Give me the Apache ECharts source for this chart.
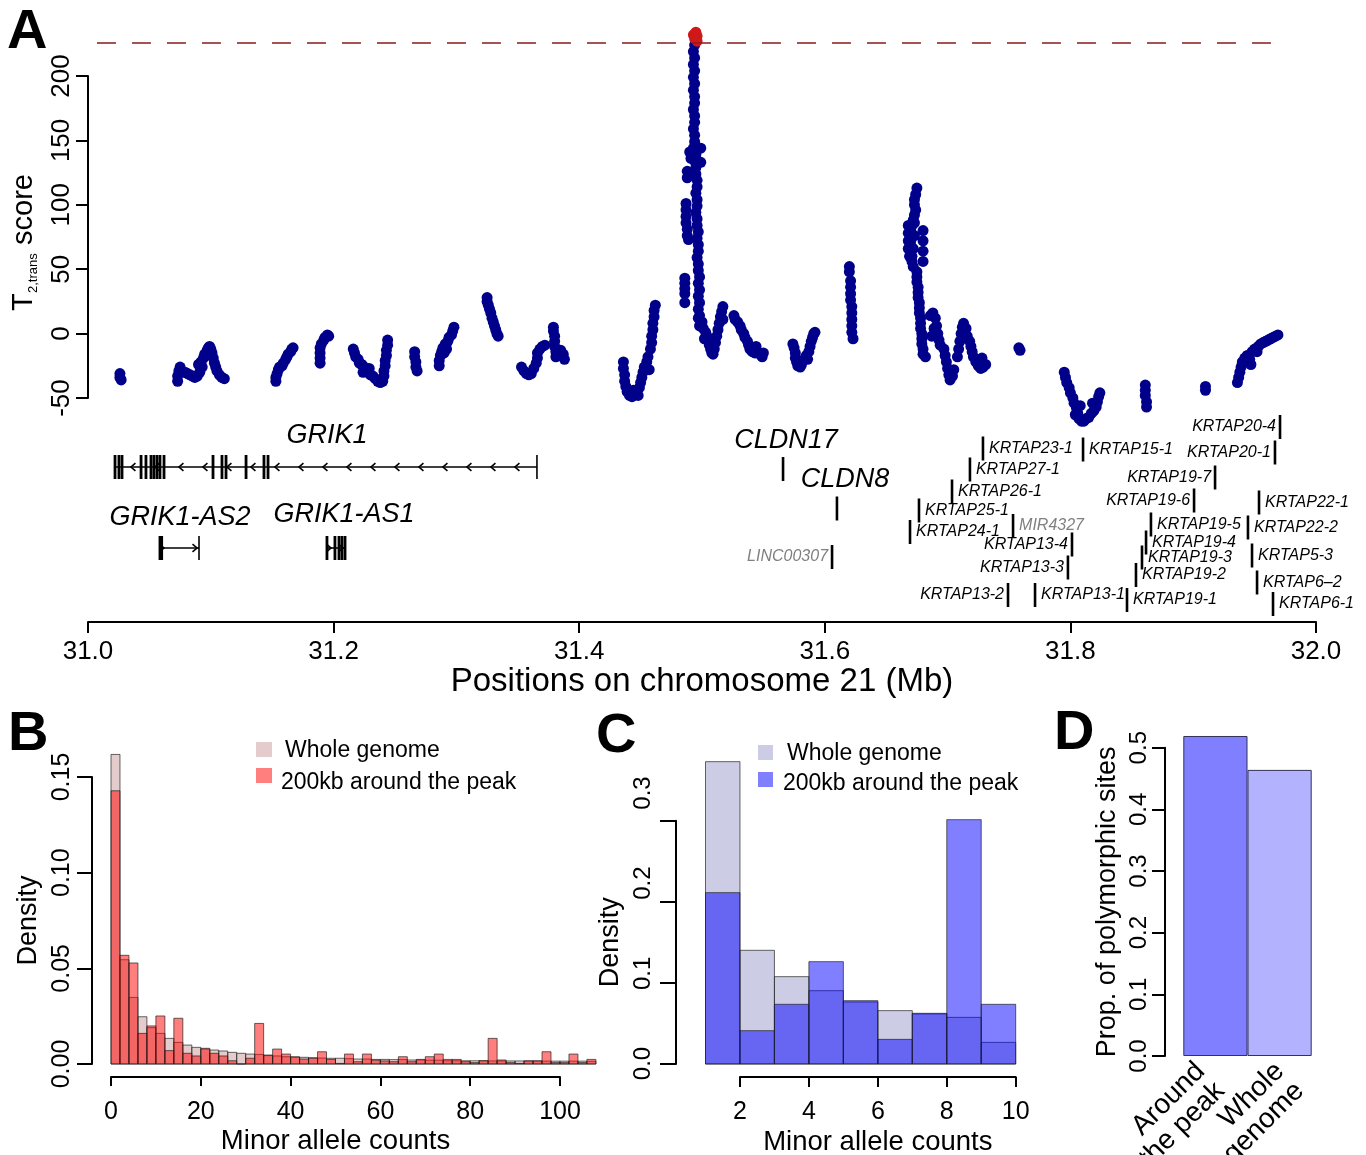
<!DOCTYPE html>
<html><head><meta charset="utf-8">
<script src="https://cdn.jsdelivr.net/npm/echarts@6/dist/echarts.min.js"></script>
<style>html,body{margin:0;padding:0;background:#fff}#c{width:1366px;height:1155px}</style>
</head><body><div id="c"></div>
<script>
// ---------------- DATA ----------------
// Panel A: T2,trans scores [position (Mb), score]
const t2GRIK1 = [
[31.026,-31],[31.026,-34],[31.027,-36],
[31.073,-37],[31.073,-33],[31.074,-29],[31.075,-26],
[31.079,-30],[31.081,-31],[31.083,-32],[31.085,-33],[31.087,-34],[31.089,-33],[31.091,-30],
[31.090,-24],[31.092,-22],[31.093,-26],[31.094,-19],[31.095,-16],[31.097,-13],[31.098,-11],[31.099,-10],[31.100,-12],[31.101,-15],[31.102,-19],
[31.103,-23],[31.104,-26],[31.105,-29],[31.107,-32],[31.109,-34],[31.111,-35],
[31.153,-37],[31.153,-34],[31.154,-31],[31.155,-28],[31.156,-26],[31.158,-25],[31.159,-23],[31.161,-20],[31.162,-18],[31.163,-16],[31.165,-14],[31.166,-12],[31.167,-11],
[31.189,-23],[31.189,-19],[31.189,-15],[31.189,-11],[31.190,-8],[31.192,-5],[31.193,-3],[31.195,-1],[31.196,-2],
[31.216,-12],[31.217,-15],[31.218,-18],[31.220,-20],[31.221,-23],[31.223,-24],[31.225,-26],[31.226,-28],[31.228,-30],[31.230,-32],[31.232,-33],[31.234,-35],[31.236,-37],[31.238,-38],[31.240,-37],[31.241,-33],[31.241,-29],[31.242,-25],[31.242,-21],[31.243,-17],[31.243,-13],[31.244,-9],[31.244,-5],[31.224,-30],[31.229,-27],
[31.266,-14],[31.266,-18],[31.267,-22],[31.267,-26],[31.268,-29],
[31.286,-25],[31.286,-21],[31.287,-17],[31.288,-14],[31.289,-11],[31.291,-8],[31.292,-12],[31.293,-6],[31.294,-3],[31.296,-1],[31.297,2],[31.298,5],[31.290,-15],
[31.325,28],[31.325,25],[31.326,22],[31.327,19],[31.328,16],[31.329,12],[31.330,9],[31.331,6],[31.332,3],[31.333,0],[31.334,-2],
[31.353,-26],[31.355,-29],[31.357,-31],[31.359,-32],[31.361,-31],[31.363,-27],[31.365,-23],[31.366,-19],[31.366,-15],[31.368,-12],[31.370,-10],[31.372,-9],
[31.379,5],[31.379,2],[31.380,-2],[31.380,-6],[31.380,-10],[31.381,-14],[31.381,-18],[31.383,-16],[31.385,-13],[31.387,-16],[31.388,-20]
];
const t2Peak = [
[31.436,-22],[31.436,-27],[31.437,-32],[31.437,-37],[31.438,-41],[31.439,-45],[31.441,-48],[31.443,-49],[31.445,-47],[31.447,-45],[31.449,-42],[31.450,-38],[31.451,-34],[31.452,-30],[31.453,-26],[31.455,-22],[31.456,-18],[31.457,-28],[31.458,-12],[31.459,-7],[31.459,-2],[31.460,3],[31.460,8],[31.461,13],[31.461,18],[31.462,22],[31.444,-44],[31.448,-48],
[31.494,224],[31.493,219],[31.494,214],[31.493,209],[31.494,204],[31.493,199],[31.494,194],[31.493,189],[31.494,184],[31.494,179],[31.493,174],[31.494,169],[31.494,164],[31.493,159],[31.494,154],[31.494,149],[31.493,144],[31.495,139],[31.494,134],[31.495,129],[31.495,124],[31.496,119],[31.496,114],[31.495,109],[31.496,104],[31.496,99],[31.495,94],[31.496,89],[31.496,84],[31.497,79],[31.496,74],[31.497,69],[31.497,64],[31.496,59],[31.497,54],[31.497,49],[31.498,44],[31.497,39],[31.498,34],[31.497,29],[31.498,24],[31.497,19],[31.498,14],
[31.490,141],[31.491,136],[31.499,144],[31.499,133],[31.488,126],[31.488,121],[31.487,101],[31.487,96],[31.487,91],[31.487,86],[31.488,81],[31.488,76],[31.489,73],[31.486,43],[31.486,39],[31.486,35],[31.486,31],[31.486,24],
[31.497,12],[31.498,6],[31.500,9],[31.501,4],[31.503,1],[31.504,-2],[31.505,-6],[31.506,-9],[31.507,-12],[31.508,-15],[31.509,-16],[31.510,-12],[31.511,-7],[31.512,-2],[31.513,3],[31.514,8],[31.515,13],[31.516,17],[31.517,21],[31.517,11],[31.502,-4],
[31.526,14],[31.527,11],[31.529,9],[31.531,6],[31.532,3],[31.534,0],[31.535,-3],[31.537,-6],[31.538,-9],[31.539,-12],[31.541,-14],[31.543,-15],[31.545,-14],[31.547,-16],[31.549,-18],[31.550,-15],[31.544,-10]
];
const t2CLDN = [
[31.574,-8],[31.575,-11],[31.576,-15],[31.576,-19],[31.577,-22],[31.578,-25],[31.580,-26],[31.581,-24],[31.582,-21],[31.584,-19],[31.585,-17],[31.587,-14],[31.588,-10],[31.589,-6],[31.590,-3],[31.591,0],[31.592,1],[31.586,-20],
[31.620,52],[31.620,48],[31.621,41],[31.621,36],[31.621,31],[31.621,26],[31.622,21],[31.622,16],[31.622,11],[31.622,6],[31.622,1],[31.623,-4],
[31.675,113],[31.674,108],[31.673,104],[31.673,100],[31.674,96],[31.673,92],[31.672,88],[31.671,84],[31.670,80],[31.670,76],[31.670,72],[31.670,68],[31.670,64],[31.671,60],[31.671,56],[31.672,52],[31.673,76],[31.673,86],[31.672,66],[31.668,84],[31.668,78],[31.668,72],[31.668,66],[31.669,60],[31.680,80],[31.680,72],[31.680,64],[31.680,56],
[31.675,48],[31.675,44],[31.675,40],[31.676,36],[31.676,32],[31.676,28],[31.677,24],[31.677,20],[31.677,16],[31.678,12],[31.678,8],[31.678,4],[31.679,0],[31.679,-4],[31.679,-8],[31.680,-12],[31.680,-16],[31.682,-18],
[31.686,14],[31.688,16],[31.690,12],[31.691,6],[31.692,0],[31.693,-5],[31.694,-9],[31.689,4],[31.687,-2],
[31.697,-12],[31.698,-17],[31.699,-22],[31.700,-27],[31.701,-32],[31.702,-36],[31.704,-33],[31.705,-28],
[31.708,-18],[31.709,-12],[31.710,-6],[31.711,0],[31.712,5],[31.713,8],[31.715,4],
[31.716,-2],[31.718,-6],[31.719,-10],[31.720,-14],[31.721,-18],[31.723,-22],[31.725,-25],[31.727,-27],[31.729,-26],[31.731,-24],[31.728,-19],
[31.758,-11],[31.759,-13]
];
const t2KRTAP = [
[31.795,-30],[31.796,-34],[31.797,-38],[31.799,-42],[31.800,-46],[31.802,-50],[31.803,-54],[31.805,-58],[31.806,-62],[31.807,-66],[31.809,-68],[31.811,-68],[31.813,-66],[31.815,-65],[31.817,-62],[31.819,-60],[31.821,-57],[31.822,-53],[31.823,-49],[31.824,-46],[31.808,-56],[31.804,-63],[31.818,-54],
[31.861,-40],[31.861,-44],[31.861,-48],[31.862,-53],[31.862,-57],
[31.910,-41],[31.910,-44],
[31.936,-38],[31.937,-34],[31.938,-30],[31.939,-26],[31.940,-22],[31.942,-19],[31.944,-17],[31.946,-20],[31.947,-24],[31.948,-14],[31.950,-12],[31.952,-14],[31.953,-10],[31.955,-8],[31.957,-7],[31.959,-6],[31.961,-5],[31.963,-4],[31.965,-3],[31.967,-2],[31.969,-1]
];
const t2AboveThreshold = [[31.493,232],[31.495,234],[31.496,231],[31.494,229],[31.496,227]];
const t2Threshold = 225.6;
const thresholdSpan = [31.0073, 31.9707];

// Gene models (positions in Mb, row = track level)
const geneModels = [
  {name:'GRIK1', start:31.0220, end:31.3656, strand:-1, row:67,
   exons:[31.0220,31.0252,31.0277,31.0432,31.0472,31.0513,31.0537,31.0562,31.0586,31.0619,31.1018,31.1091,31.1124,31.1287,31.1433,31.1466]},
  {name:'GRIK1-AS2', start:31.0586, end:31.0904, strand:1, row:148, exons:[31.0586,31.0600]},
  {name:'GRIK1-AS1', start:31.1946, end:31.2093, strand:1, row:148, exons:[31.1946,31.2011,31.2044,31.2068,31.2093]}
];
const geneLabelNames = ['GRIK1','GRIK1-AS2','GRIK1-AS1','CLDN17','CLDN8'];
const geneLabelPos   = [31.1946, 31.0749, 31.2085, 31.5684, 31.6164];
const geneLabelRow   = [35, 117, 114, 40, 79];

const smallGeneNames = ['CLDN17','CLDN8','LINC00307','KRTAP20-4','KRTAP23-1','KRTAP15-1','KRTAP20-1','KRTAP27-1','KRTAP19-7','KRTAP26-1','KRTAP19-6','KRTAP22-1','KRTAP25-1','MIR4327','KRTAP24-1','KRTAP19-5','KRTAP22-2','KRTAP13-4','KRTAP19-4','KRTAP19-3','KRTAP5-3','KRTAP13-3','KRTAP19-2','KRTAP6\u20132','KRTAP13-2','KRTAP13-1','KRTAP19-1','KRTAP6-1'];
const smallGenePos = [31.5660,31.6099,31.6059,31.9707,31.7288,31.8103,31.9666,31.7182,31.9178,31.7036,31.9007,31.9536,31.6767,31.7533,31.6694,31.8656,31.9446,31.8013,31.8616,31.8583,31.9479,31.7980,31.8534,31.9520,31.7492,31.7712,31.8461,31.9650];
const smallGeneRow = [69,108.5,157,27,48.5,49.5,52.5,69.5,77.5,91.5,100.5,102.5,110.5,126,132,124.5,127.5,144.5,142.5,157.5,155.5,167.5,175,182.5,195,195,200,204];
const smallGeneSide = ['','','l','l','r','r','l','r','l','r','l','r','r','r','r','r','r','l','r','r','r','l','r','r','l','r','r','r'];
const nonCodingGenes = ['LINC00307','MIR4327'];

// Panel B: minor allele count histogram (bins of width 2 from 0 to 108)
const binWidthB = 2;
const densB_whole = [0.1618,0.0545,0.0348,0.0247,0.0190,0.0160,0.0134,0.0113,0.0099,0.0087,0.0078,0.0073,0.0068,0.0061,0.0056,0.0052,0.0050,0.0044,0.0042,0.0038,0.0035,0.0035,0.0033,0.0031,0.0030,0.0030,0.0028,0.0026,0.0026,0.0024,0.0024,0.0023,0.0023,0.0021,0.0021,0.0020,0.0020,0.0017,0.0017,0.0017,0.0017,0.0017,0.0016,0.0016,0.0016,0.0016,0.0015,0.0015,0.0015,0.0015,0.0015,0.0015,0.0015,0.0014];
const densB_peak  = [0.1428,0.0568,0.0528,0.0160,0.0199,0.0251,0.0070,0.0239,0.0056,0.0042,0.0082,0.0056,0.0042,0.0017,0.0000,0.0030,0.0212,0.0047,0.0078,0.0052,0.0038,0.0026,0.0030,0.0064,0.0024,0.0003,0.0052,0.0012,0.0052,0.0020,0.0016,0.0012,0.0038,0.0012,0.0024,0.0038,0.0052,0.0024,0.0024,0.0012,0.0007,0.0017,0.0134,0.0021,0.0007,0.0003,0.0017,0.0017,0.0064,0.0007,0.0007,0.0052,0.0007,0.0024];
// Panel C: minor allele counts 1..10 (bins of width 1)
const binStartC = 1;
const densC_whole = [0.3728,0.1402,0.1077,0.0904,0.0765,0.0658,0.0617,0.0575,0.0267];
const densC_peak  = [0.2113,0.0411,0.0736,0.1262,0.0781,0.0304,0.0625,0.3013,0.0736];
// Panel D
const propCategories = ['Around\nthe peak','Whole\ngenome'];
const propPolymorphic = [0.519, 0.464];

// ---------------- CHART ----------------
const FAM = 'Liberation Sans';
const CSSFAM = '"Liberation Sans", Arial, Helvetica, sans-serif';
const BLACK = '#000';
const chart = echarts.init(document.getElementById('c'), null, {renderer:'canvas', width:1366, height:1155});

function arrowHead(x, y, dir) {
  return {type:'polyline', shape:{points:[[x - dir*4.5, y-3.8],[x, y],[x - dir*4.5, y+3.8]]}, style:{stroke:BLACK, lineWidth:1.6, fill:null}};
}
function renderGeneModel(params, api) {
  const g = geneModels[api.value(2)];
  const pS = api.coord([g.start, g.row]);
  const pE = api.coord([g.end, g.row]);
  const y = pS[1], half = 12;
  const ch = [{type:'line', shape:{x1:pS[0], y1:y, x2:pE[0], y2:y}, style:{stroke:BLACK, lineWidth:1.6}}];
  [pS[0], pE[0]].forEach(x => ch.push({type:'line', shape:{x1:x, y1:y-half, x2:x, y2:y+half}, style:{stroke:BLACK, lineWidth:1.6}}));
  g.exons.forEach(e => {
    const x = api.coord([e, g.row])[0];
    ch.push({type:'rect', shape:{x:x-1.4, y:y-half, width:2.8, height:2*half}, style:{fill:BLACK}});
  });
  if (g.strand < 0) {
    for (let x = pE[0]-22; x > pS[0]+4; x -= 24) ch.push(arrowHead(x, y, -1));
  } else {
    ch.push(arrowHead(pS[0]+4, y, 1));
    ch.push(arrowHead(pE[0]-2, y, 1));
  }
  return {type:'group', children:ch};
}
function renderSmallGene(params, api) {
  const i = api.value(2);
  const p = api.coord([api.value(0), api.value(1)]);
  const ch = [{type:'rect', shape:{x:p[0]-1.3, y:p[1]-12, width:2.6, height:24}, style:{fill:BLACK}}];
  const name = smallGeneNames[i], side = smallGeneSide[i];
  if (side) {
    const right = side === 'r';
    ch.push({type:'text', style:{text:name, x:p[0] + (right ? 6 : -4), y:p[1],
      fill: nonCodingGenes.indexOf(name) >= 0 ? '#808080' : BLACK,
      font:'italic 16px ' + CSSFAM, textAlign: right ? 'left' : 'right', textVerticalAlign:'middle'}});
  }
  return {type:'group', children:ch};
}
function renderGeneLabel(params, api) {
  const i = api.value(2);
  const p = api.coord([api.value(0), api.value(1)]);
  return {type:'text', style:{text:geneLabelNames[i], x:p[0], y:p[1], fill:BLACK,
    font:'italic 27px ' + CSSFAM, textAlign:'center', textVerticalAlign:'middle'}};
}
function renderHist(params, api) {
  const a = api.coord([api.value(0), 0]);
  const b = api.coord([api.value(1), api.value(2)]);
  return {type:'rect', shape:{x:a[0], y:b[1], width:b[0]-a[0], height:a[1]-b[1]},
    style: api.style({stroke:'rgba(30,30,30,0.75)', lineWidth:0.9})};
}
// rotated category labels under the bars of panel D (R: srt=45, adj=1)
const labelShiftD = [-5, 10];
function renderCatLabel(params, api) {
  const i = params.dataIndex;
  const p = api.coord([i, 0]);
  return {type:'text', x:p[0] + labelShiftD[i], y:p[1] + 21, rotation:Math.PI/4,
    style:{text:propCategories[i], fill:BLACK, font:'28px ' + CSSFAM, lineHeight:28,
      textAlign:'right', textVerticalAlign:'middle'}};
}

const lineS = {color:BLACK, width:2};
function valAxis(o) {
  return Object.assign({type:'value', splitLine:{show:false}, axisLine:{show:true, onZero:false, lineStyle:lineS},
    axisTick:{show:true, lineStyle:lineS}, axisLabel:{color:BLACK, fontFamily:FAM}, nameTextStyle:{color:BLACK, fontFamily:FAM}}, o);
}
const hidden = (gi, min, max) => ({type:'value', gridIndex:gi, min:min, max:max, show:false, splitLine:{show:false}, axisLine:{onZero:false}});
const G = (o) => Object.assign({containLabel:false, outerBoundsMode:'none'}, o);

const option = {
  backgroundColor:'#fff',
  animation:false,
  grid:[
    G({left:88, top:76, width:1228, height:322}),        // 0 A scores
    G({left:88, top:400, width:1228, height:222}),       // 1 A genes
    G({left:111, top:777, width:484.9, height:287}),     // 2 B data
    G({left:111, top:777, width:449, height:287}),       // 3 B x axis
    G({left:705.5, top:820.7, width:310.2, height:243.3}), // 4 C data
    G({left:740, top:820.7, width:275.7, height:243.3}), // 5 C x axis
    G({left:705.5, top:793, width:310.2, height:270.5}), // 6 C y labels
    G({left:1183.3, top:747.7, width:128.4, height:308.3}) // 7 D
  ],
  xAxis:[
    hidden(0, 31, 32),
    valAxis({gridIndex:1, min:31, max:32, interval:0.2, position:'bottom',
      axisTick:{show:true, length:11, lineStyle:lineS},
      axisLabel:{formatter:v => v.toFixed(1), fontSize:26, margin:17, color:BLACK, fontFamily:FAM},
      name:'Positions on chromosome 21 (Mb)', nameLocation:'middle', nameGap:41,
      nameTextStyle:{fontSize:33, color:BLACK, fontFamily:FAM}}),
    hidden(2, 0, 108),
    valAxis({gridIndex:3, min:0, max:100, interval:20, offset:13, position:'bottom',
      axisTick:{show:true, length:9, lineStyle:lineS},
      axisLabel:{fontSize:25, margin:23, color:BLACK, fontFamily:FAM},
      name:'Minor allele counts', nameLocation:'middle', nameGap:50,
      nameTextStyle:{fontSize:27.5, color:BLACK, fontFamily:FAM}}),
    hidden(4, 1, 10),
    valAxis({gridIndex:5, min:2, max:10, interval:2, offset:13, position:'bottom',
      axisTick:{show:true, length:10, lineStyle:lineS},
      axisLabel:{fontSize:25, margin:23, color:BLACK, fontFamily:FAM},
      name:'Minor allele counts', nameLocation:'middle', nameGap:51,
      nameTextStyle:{fontSize:27.5, color:BLACK, fontFamily:FAM}}),
    hidden(6, 0, 1),
    {type:'category', gridIndex:7, data:propCategories, axisLine:{show:false}, axisTick:{show:false},
      axisLabel:{show:false}}
  ],
  yAxis:[
    valAxis({gridIndex:0, min:-50, max:200, interval:50,
      axisTick:{show:true, length:12, lineStyle:lineS},
      axisLabel:{rotate:90, fontSize:26, margin:13, color:BLACK, fontFamily:FAM}}),
    {type:'value', gridIndex:1, min:0, max:222, inverse:true, show:false, splitLine:{show:false}},
    valAxis({gridIndex:2, min:0, max:0.15, interval:0.05, offset:19,
      axisTick:{show:true, length:15, lineStyle:lineS},
      axisLabel:{rotate:90, fontSize:25, margin:17, formatter:v => v.toFixed(2), color:BLACK, fontFamily:FAM},
      name:'Density', nameLocation:'middle', nameGap:50, nameTextStyle:{fontSize:27, color:BLACK, fontFamily:FAM}}),
    hidden(3, 0, 1),
    valAxis({gridIndex:4, min:0, max:0.3, interval:0.1, offset:29.5,
      axisTick:{show:true, length:16, lineStyle:lineS}, axisLabel:{show:false},
      name:'Density', nameLocation:'middle', nameGap:52, nameTextStyle:{fontSize:27, color:BLACK, fontFamily:FAM}}),
    hidden(5, 0, 1),
    {type:'value', gridIndex:6, min:0, max:0.3, interval:0.1, offset:29.5, splitLine:{show:false},
      axisLine:{show:false}, axisTick:{show:false},
      axisLabel:{rotate:90, fontSize:24, margin:20.7, formatter:v => v.toFixed(1), color:BLACK, fontFamily:FAM}},
    valAxis({gridIndex:7, min:0, max:0.5, interval:0.1, offset:18.3,
      axisTick:{show:true, length:13, lineStyle:lineS},
      axisLabel:{rotate:90, fontSize:24, margin:13.4, formatter:v => v.toFixed(1), color:BLACK, fontFamily:FAM},
      name:'Prop. of polymorphic sites', nameLocation:'middle', nameGap:44, nameTextStyle:{fontSize:27, color:BLACK, fontFamily:FAM}})
  ],
  series:[
    {type:'scatter', xAxisIndex:0, yAxisIndex:0, data:[].concat(t2GRIK1, t2Peak, t2CLDN, t2KRTAP), symbolSize:11,
      itemStyle:{color:'#00008B', opacity:1}, clip:false, silent:true},
    {type:'scatter', xAxisIndex:0, yAxisIndex:0, data:t2AboveThreshold, symbolSize:11,
      itemStyle:{color:'#D01818', opacity:1}, clip:false, silent:true},
    {type:'line', xAxisIndex:0, yAxisIndex:0, data:thresholdSpan.map(x => [x, t2Threshold]), symbol:'none',
      lineStyle:{color:'#8B1A1A', width:1.6, type:[19,16]}, clip:false, silent:true},
    {type:'custom', xAxisIndex:1, yAxisIndex:1, renderItem:renderGeneModel, silent:true,
      data:geneModels.map((g,i) => [g.start, g.row, i]), encode:{x:0, y:1}},
    {type:'custom', xAxisIndex:1, yAxisIndex:1, renderItem:renderSmallGene, silent:true,
      data:smallGenePos.map((p,i) => [p, smallGeneRow[i], i]), encode:{x:0, y:1}},
    {type:'custom', xAxisIndex:1, yAxisIndex:1, renderItem:renderGeneLabel, silent:true,
      data:geneLabelPos.map((p,i) => [p, geneLabelRow[i], i]), encode:{x:0, y:1}},
    {type:'custom', name:'Whole genome', xAxisIndex:2, yAxisIndex:2, renderItem:renderHist, silent:true,
      itemStyle:{color:'rgba(204,153,153,0.5)'},
      data:densB_whole.map((h,i) => [i*binWidthB, (i+1)*binWidthB, h]), encode:{x:[0,1], y:2}},
    {type:'custom', name:'200kb around the peak', xAxisIndex:2, yAxisIndex:2, renderItem:renderHist, silent:true,
      itemStyle:{color:'rgba(255,0,0,0.5)'},
      data:densB_peak.map((h,i) => [i*binWidthB, (i+1)*binWidthB, h]), encode:{x:[0,1], y:2}},
    {type:'custom', name:'Whole genome C', xAxisIndex:4, yAxisIndex:4, renderItem:renderHist, silent:true,
      itemStyle:{color:'rgba(153,153,204,0.5)'},
      data:densC_whole.map((h,i) => [binStartC+i, binStartC+i+1, h]), encode:{x:[0,1], y:2}},
    {type:'custom', name:'200kb around the peak C', xAxisIndex:4, yAxisIndex:4, renderItem:renderHist, silent:true,
      itemStyle:{color:'rgba(0,0,255,0.5)'},
      data:densC_peak.map((h,i) => [binStartC+i, binStartC+i+1, h]), encode:{x:[0,1], y:2}},
    {type:'bar', xAxisIndex:7, yAxisIndex:7, barWidth:'100%', barCategoryGap:0, clip:false, silent:true,
      data:propPolymorphic.map((v,i) => ({value:v, itemStyle:{color: i === 0 ? 'rgba(0,0,255,0.5)' : 'rgba(0,0,255,0.3)', borderColor:'#333355', borderWidth:1}}))},
    {type:'custom', xAxisIndex:7, yAxisIndex:7, renderItem:renderCatLabel, silent:true, clip:false,
      data:propCategories.map((c,i) => [i, 0]), encode:{x:0, y:1}}
  ],
  graphic:[
    {type:'text', x:7, y:33, style:{text:'A', font:'bold 56px ' + CSSFAM, fill:BLACK, textVerticalAlign:'middle'}},
    {type:'text', x:8, y:735, style:{text:'B', font:'bold 56px ' + CSSFAM, fill:BLACK, textVerticalAlign:'middle'}},
    {type:'text', x:596, y:737, style:{text:'C', font:'bold 56px ' + CSSFAM, fill:BLACK, textVerticalAlign:'middle'}},
    {type:'text', x:1054, y:734, style:{text:'D', font:'bold 56px ' + CSSFAM, fill:BLACK, textVerticalAlign:'middle'}},
    {type:'group', x:26, y:312, rotation:Math.PI/2, children:[
      {type:'text', style:{text:'T', x:1, y:-2, font:'29px ' + CSSFAM, fill:BLACK, textAlign:'left', textVerticalAlign:'middle'}},
      {type:'text', style:{text:'2,trans', x:19, y:7.5, font:'13px ' + CSSFAM, fill:BLACK, textAlign:'left', textVerticalAlign:'middle'}},
      {type:'text', style:{text:'score', x:67, y:-2, font:'29px ' + CSSFAM, fill:BLACK, textAlign:'left', textVerticalAlign:'middle'}}
    ]},
    {type:'rect', shape:{x:256, y:742, width:16, height:15}, style:{fill:'rgba(204,153,153,0.5)'}},
    {type:'rect', shape:{x:256, y:768, width:16, height:15}, style:{fill:'rgba(255,0,0,0.5)'}},
    {type:'text', style:{text:'Whole genome', x:285, y:751, font:'23px ' + CSSFAM, fill:BLACK, textVerticalAlign:'middle'}},
    {type:'text', style:{text:'200kb around the peak', x:281, y:783, font:'23px ' + CSSFAM, fill:BLACK, textVerticalAlign:'middle'}},
    {type:'rect', shape:{x:758, y:745, width:15, height:15}, style:{fill:'rgba(153,153,204,0.5)'}},
    {type:'rect', shape:{x:758, y:772, width:15, height:15}, style:{fill:'rgba(0,0,255,0.5)'}},
    {type:'text', style:{text:'Whole genome', x:787, y:754, font:'23px ' + CSSFAM, fill:BLACK, textVerticalAlign:'middle'}},
    {type:'text', style:{text:'200kb around the peak', x:783, y:784, font:'23px ' + CSSFAM, fill:BLACK, textVerticalAlign:'middle'}}
  ]
};
chart.setOption(option);
</script>
</body></html>
